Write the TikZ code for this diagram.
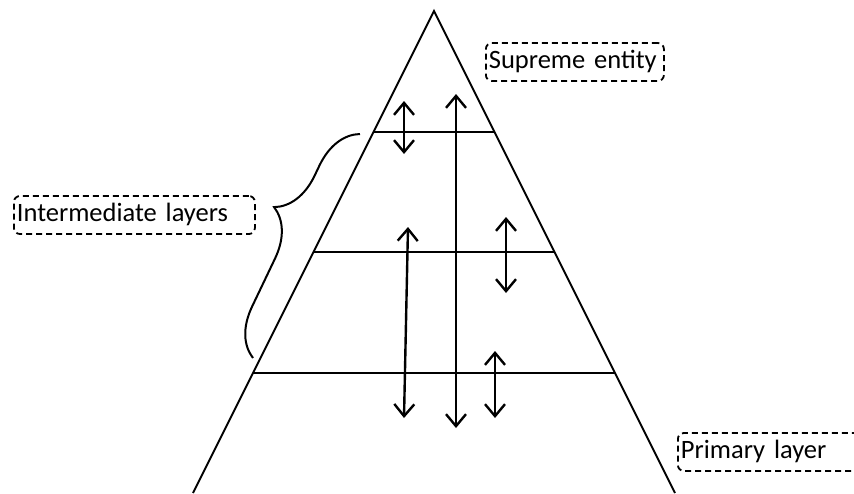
\documentclass[tikz,border=0pt]{standalone}
\usepackage{fontspec}
\setmainfont[WordSpace={0.9,0,0}]{Carlito}
\usetikzlibrary{arrows.meta,decorations.pathreplacing,calc}
\tikzset{
  labelbox/.style={
    draw, dash pattern=on 6pt off 4pt, rounded corners=6pt, line width=1.8pt,
    anchor=west, align=left, inner xsep=3pt, inner ysep=0pt,
    minimum height=38pt, text height=18pt, text depth=6pt
  },
  levelarrow/.style={
    {Straight Barb[length=12pt,width=20pt]}-{Straight Barb[length=12pt,width=20pt]},
    line width=2.4pt
  }
}

\begin{document}
\begin{tikzpicture}[x=1pt, y=-1pt, line width=2pt, every node/.style={font=\fontsize{26.5}{30}\selectfont}]
  \useasboundingbox (0,0) rectangle (854,493);

  \coordinate (apex) at (434,11);
  \coordinate (bl) at (193,493);
  \coordinate (br) at (675,493);
  \draw (bl) -- (apex) -- (br);

  % Layer boundaries
  \foreach \p in {0.25,0.5,0.75}
    \draw ($(apex)!\p!(bl)$) -- ($(apex)!\p!(br)$);

  % Links between layers
  \foreach \xa/\ya/\xb/\yb in {
  404/101/404/154,
  456/94/456/428,
  408/227/404/418,
  506/217/506/293,
  495/351/495/418
  } {
    \draw[levelarrow] (\xa,\ya) -- (\xb,\yb);
  }

  % Labels
  \node[labelbox, text width=172pt] (supreme) at (485,62) {Supreme entity};
  \node[labelbox, text width=235pt] (inter) at (13,215) {Intermediate layers};
  \node[labelbox, text width=200pt] (primary) at (677,452) {Primary layer};

  \coordinate (bracelow) at (253,358);
  \coordinate (bracehigh) at (360,134);
  \draw[decorate, decoration={brace, amplitude=46pt, aspect=0.585}] (bracelow) -- (bracehigh);

\end{tikzpicture}
\end{document}
